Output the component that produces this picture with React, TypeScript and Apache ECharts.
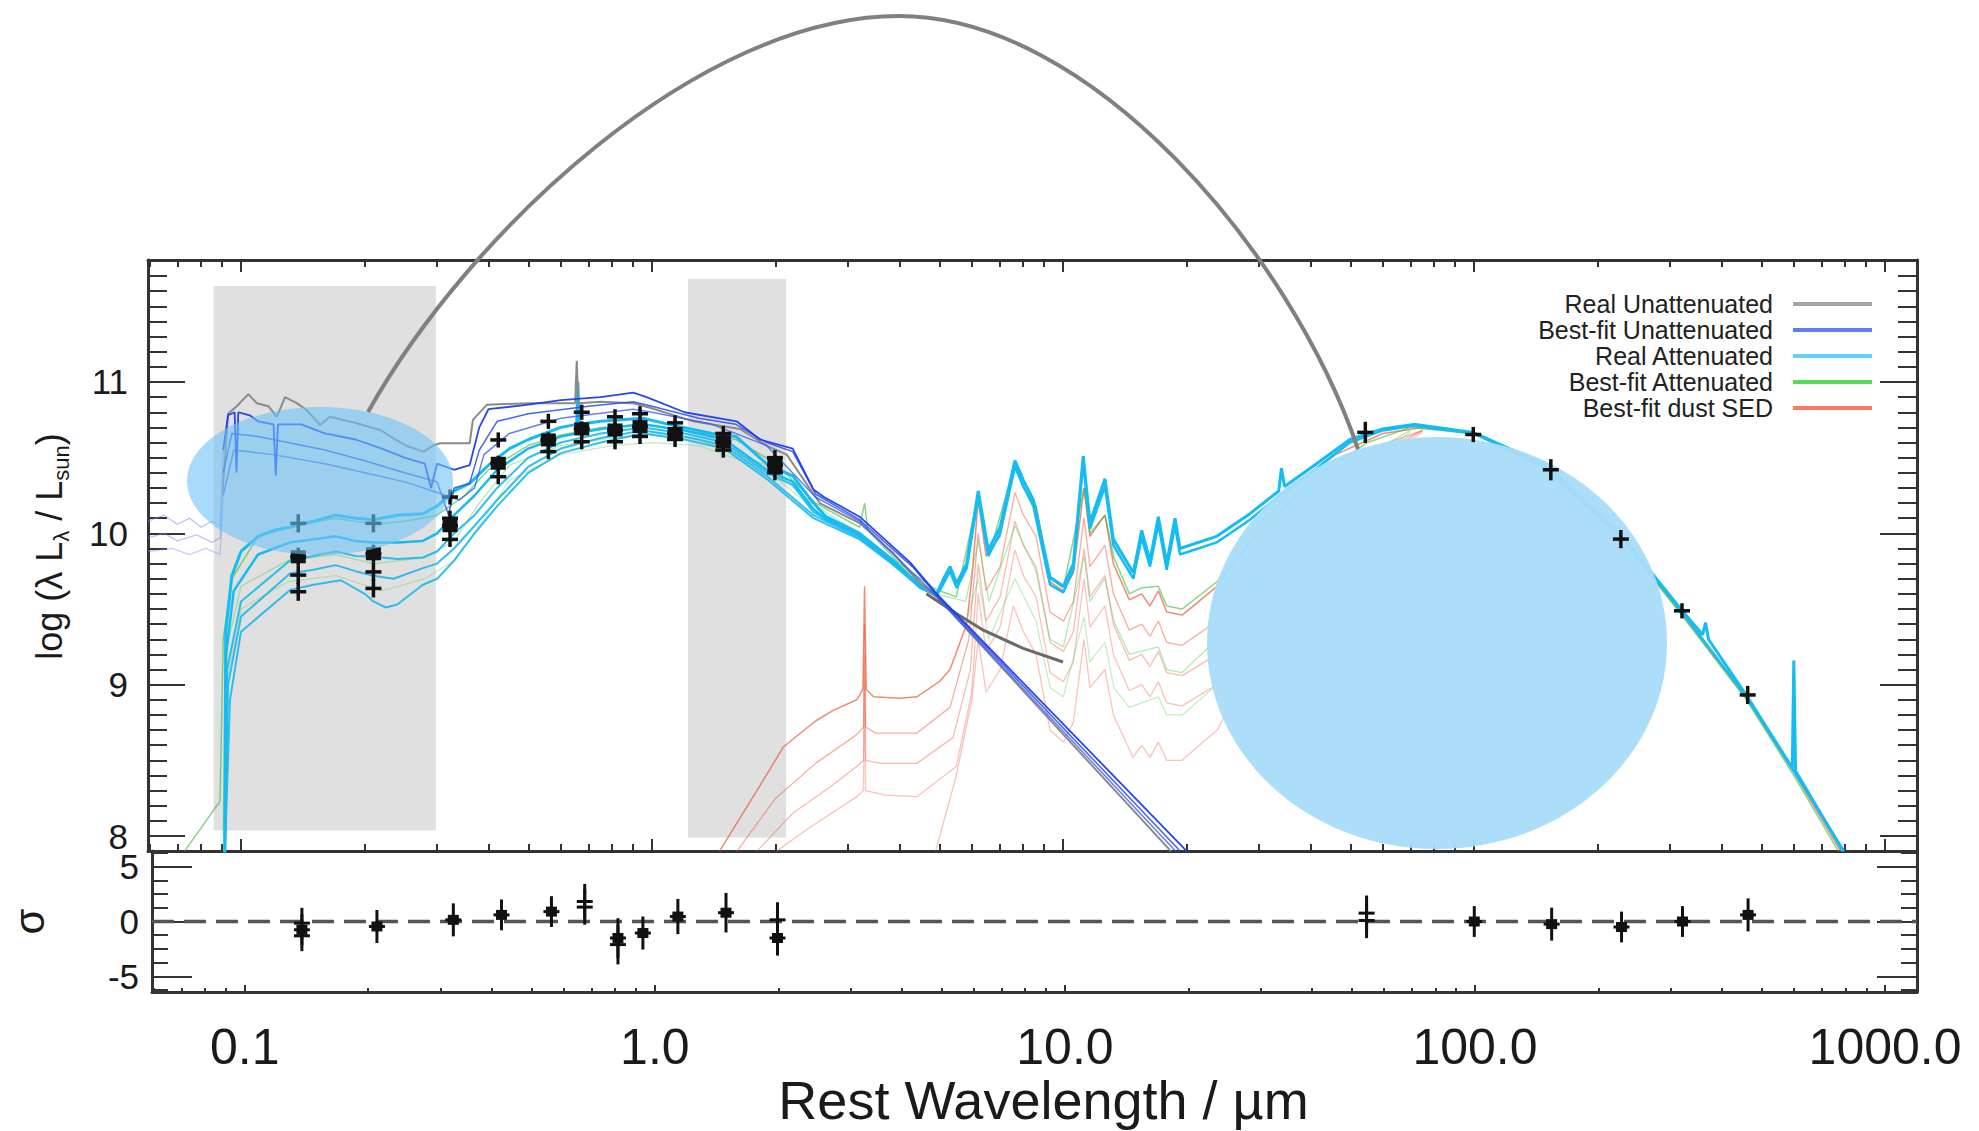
import React, { useEffect, useRef } from 'react';
import * as echarts from 'echarts';

// ---------- axis extents (x in log10 of wavelength / µm) ----------
const X_MIN = -1.2263;
const X_MAX = 3.0779;
const Y_MIN = 7.901;
const Y_MAX = 11.806;
const R_MIN = -6.41;
const R_MAX = 6.41;

const xMajorTicks = [-1, 0, 1, 2, 3];
const yMainLabels = [8, 9, 10, 11];
const yResidLabels = [-5, 0, 5];
const yResidMinor = [-6.25, -3.75, -2.5, -1.25, 1.25, 2.5, 3.75, 6.25];

// ---------- shaded wavelength windows ----------
const shadeWl = [[0.0858, 0.298], [1.224, 2.12]];
const shadeLum = [[8.036, 11.634], [7.99, 11.68]];

// ---------- Real Unattenuated (grey) ----------
const greyReal = [[0.0902,10.27],[0.093,10.79],[0.0976,10.84],[0.1042,10.92],[0.1092,10.86],[0.1166,10.84],[0.1222,10.77],[0.128,10.9],[0.1366,10.86],[0.1445,10.815],[0.1557,10.716],[0.1646,10.77],[0.1912,10.727],[0.218,10.683],[0.2348,10.628],[0.253,10.577],[0.2777,10.54],[0.2937,10.58],[0.305,10.595],[0.36,10.595],[0.3667,10.75],[0.3967,10.85],[0.5,10.86],[0.65,10.86],[0.656,11.14],[0.662,10.86],[0.75,10.87],[0.9,10.86],[0.989,10.83],[1.26,10.74],[1.637,10.69],[1.9,10.58],[2.127,10.52],[2.47,10.26],[2.564,10.198],[3.207,10.066],[3.865,9.868],[4.487,9.67],[4.93,9.58],[18.3,7.9]];
const greyBranch = [[4.65,9.6],[5.5,9.47],[6.4,9.36],[8.0,9.24],[10.0,9.15]];

// ---------- Best-fit Unattenuated (blue) ----------
const blueFarA = [[0.0594,10.08],[0.065,10.12],[0.07,10.06],[0.075,10.1],[0.08,10.04],[0.085,10.08],[0.089,10.05],[0.0905,10.55]];
const blueFarB = [[0.0594,9.97],[0.065,10.0],[0.07,9.95],[0.078,9.99],[0.085,9.94],[0.089,9.97],[0.0905,10.4]];
const blueFarC = [[0.0594,9.88],[0.068,9.9],[0.075,9.86],[0.082,9.9],[0.089,9.86],[0.0905,10.25]];
const blueA = [[0.0905,10.55],[0.093,10.78],[0.0965,10.8],[0.0975,10.4],[0.0985,10.8],[0.105,10.78],[0.11,10.74],[0.12,10.72],[0.1215,10.38],[0.123,10.72],[0.14,10.72],[0.16,10.66],[0.19,10.62],[0.22,10.56],[0.25,10.5],[0.28,10.46],[0.29,10.3],[0.3,10.46],[0.33,10.42],[0.36,10.45],[0.38,10.7],[0.4,10.82],[0.5,10.85],[0.6,10.88],[0.75,10.9],[0.9,10.93],[0.97,10.9],[1.2,10.8],[1.607,10.74],[1.83,10.62],[2.2,10.56],[2.47,10.29],[2.62,10.24],[3.2,10.11],[4.24,9.81],[4.93,9.6],[20.0,7.9]];
const blueB = [[0.0905,10.4],[0.095,10.66],[0.11,10.64],[0.13,10.6],[0.16,10.55],[0.2,10.48],[0.25,10.4],[0.3,10.34],[0.32,10.12],[0.33,10.3],[0.36,10.33],[0.38,10.55],[0.42,10.74],[0.5,10.79],[0.7,10.84],[0.9,10.87],[1.0,10.84],[1.3,10.76],[1.6,10.72],[1.9,10.6],[2.2,10.54],[2.5,10.26],[3.2,10.09],[4.3,9.78],[4.9,9.6],[19.3,7.9]];
const blueC = [[0.0905,10.25],[0.096,10.55],[0.12,10.52],[0.16,10.46],[0.2,10.4],[0.25,10.34],[0.3,10.27],[0.34,10.22],[0.37,10.3],[0.39,10.52],[0.45,10.66],[0.6,10.76],[0.9,10.82],[1.0,10.8],[1.4,10.72],[1.9,10.58],[2.5,10.24],[3.2,10.08],[4.9,9.59],[18.8,7.9]];

// ---------- Real Attenuated (cyan) ----------
const cyanA = [[0.0913,7.85],[0.0918,9.35],[0.095,9.72],[0.1,9.88],[0.11,9.98],[0.12,10.02],[0.1316,10.04],[0.15,10.08],[0.17,10.12],[0.19,10.1],[0.21,10.09],[0.24,10.12],[0.277,10.13],[0.3,10.18],[0.33,10.28],[0.36,10.33],[0.4,10.45],[0.45,10.56],[0.5,10.62],[0.6,10.7],[0.656,10.72],[0.66,11.0],[0.665,10.72],[0.75,10.74],[0.95,10.76],[1.1,10.72],[1.4,10.66],[1.6,10.64],[1.9,10.46],[2.2,10.38],[2.47,10.2],[2.65,10.11],[3.2,10.0],[3.87,9.82],[4.49,9.65],[4.93,9.6],[5.1,9.69],[5.31,9.78],[5.51,9.67],[5.83,9.8],[6.22,10.28],[6.58,9.89],[7.03,10.04],[7.64,10.48],[8.01,10.35],[8.47,10.22],[9.3,9.71],[10.02,9.65],[10.6,9.8],[11.2,10.51],[11.63,10.07],[12.65,10.36],[13.26,9.96],[14.83,9.74],[15.54,10.02],[16.28,9.82],[17.06,10.11],[17.88,9.8],[18.73,10.1],[19.26,9.9],[23.66,9.98],[28.5,10.13],[33.5,10.28],[34.0,10.43],[34.6,10.31],[41.4,10.46],[49.9,10.62],[60,10.69],[71.3,10.72],[99.5,10.667],[151,10.447],[229.5,9.98],[320.6,9.49],[360,9.33],[366,9.41],[372,9.3],[460,8.93],[595,8.45],[600,9.16],[606,8.43],[791,7.9]];
const cyanB = [[0.0913,7.85],[0.092,9.2],[0.096,9.62],[0.11,9.86],[0.1316,9.94],[0.15,9.96],[0.17,9.98],[0.19,9.95],[0.21,9.94],[0.24,9.94],[0.277,9.95],[0.3,10.0],[0.33,10.12],[0.37,10.25],[0.42,10.42],[0.5,10.56],[0.6,10.64],[0.75,10.69],[0.95,10.72],[1.2,10.68],[1.5,10.62],[1.9,10.42],[2.2,10.34],[2.47,10.16],[2.65,10.09],[3.2,9.99],[3.87,9.81],[4.49,9.64],[4.93,9.59],[5.1,9.66],[5.31,9.75],[5.51,9.64],[5.83,9.77],[6.22,10.24],[6.58,9.85],[7.03,10.0],[7.64,10.44],[8.01,10.31],[8.47,10.18],[9.3,9.66],[10.02,9.61],[10.6,9.76],[11.2,10.47],[11.63,10.03],[12.65,10.31],[13.26,9.92],[14.83,9.7],[15.54,9.97],[16.28,9.78],[17.06,10.06],[17.88,9.76],[18.73,10.05],[19.26,9.86],[23.66,9.94],[28.5,10.09],[34.4,10.27],[41.4,10.43],[49.9,10.6],[60,10.68],[71.3,10.71],[99.5,10.66],[151,10.44],[229.5,9.97],[320.6,9.48],[460,8.92],[600,8.43],[795,7.9]];
const cyanC = [[0.0913,7.85],[0.0925,9.1],[0.1,9.55],[0.1316,9.82],[0.15,9.85],[0.17,9.88],[0.19,9.85],[0.21,9.845],[0.24,9.83],[0.277,9.84],[0.3,9.88],[0.33,10.0],[0.37,10.12],[0.42,10.3],[0.5,10.5],[0.6,10.6],[0.75,10.66],[0.95,10.7],[1.2,10.66],[1.5,10.6],[1.9,10.4],[2.2,10.32],[2.47,10.14],[3.2,9.98],[4.49,9.64],[4.93,9.59]];
const cyanD = [[0.0913,7.85],[0.093,9.0],[0.1,9.45],[0.1316,9.735],[0.15,9.76],[0.17,9.79],[0.19,9.75],[0.21,9.72],[0.235,9.7],[0.277,9.77],[0.3,9.8],[0.33,9.9],[0.37,10.05],[0.42,10.22],[0.5,10.44],[0.6,10.56],[0.75,10.63],[0.95,10.68],[1.2,10.64],[1.5,10.58],[1.9,10.38],[2.47,10.12],[3.2,9.97],[4.93,9.58]];
const cyanE = [[0.0913,7.85],[0.094,8.9],[0.1,9.35],[0.1316,9.625],[0.15,9.66],[0.175,9.69],[0.2,9.6],[0.21,9.55],[0.225,9.51],[0.24,9.53],[0.277,9.66],[0.3,9.7],[0.33,9.82],[0.37,10.0],[0.42,10.18],[0.5,10.4],[0.6,10.53],[0.75,10.6],[0.95,10.66],[1.2,10.62],[1.5,10.56],[1.9,10.36],[2.47,10.1],[3.2,9.96],[4.93,9.58]];

// ---------- Best-fit Attenuated (green) ----------
const greenA = [[0.0729,7.9],[0.0889,8.23],[0.0905,9.3],[0.095,9.7],[0.11,9.98],[0.14,10.06],[0.17,10.1],[0.21,10.06],[0.25,10.08],[0.3,10.12],[0.35,10.25],[0.4,10.42],[0.5,10.58],[0.6,10.65],[0.75,10.7],[0.95,10.72],[1.2,10.68],[1.6,10.62],[2.0,10.46],[2.5,10.2],[3.2,10.04],[3.29,10.2],[3.35,10.02],[4.0,9.8],[4.9,9.63],[5.5,9.58],[6.22,10.25],[6.6,9.85],[7.64,10.46],[8.6,10.18],[9.3,9.7],[10.02,9.64],[11.25,10.3],[11.63,10.0],[12.65,10.12],[13.3,9.84],[14.5,9.6],[15.54,9.64],[17.06,9.65],[17.88,9.52],[19.5,9.5],[23.7,9.68],[30,10.0],[40,10.35],[55,10.6],[70,10.7],[100,10.66],[150,10.42],[230,9.95],[320,9.46],[460,8.9],[600,8.4],[770,7.9]];
const greenB = [[0.0905,8.0],[0.0915,9.2],[0.1,9.65],[0.13,9.82],[0.17,9.86],[0.21,9.8],[0.28,9.84],[0.33,9.95],[0.38,10.2],[0.45,10.45],[0.6,10.58],[0.8,10.63],[1.0,10.66],[1.3,10.62],[1.9,10.45],[2.5,10.18],[3.2,10.0],[4.9,9.6],[5.8,9.55],[6.22,9.95],[6.6,9.55],[7.64,10.05],[8.6,9.75],[9.3,9.3],[10.02,9.25],[11.25,9.85],[11.63,9.55],[12.65,9.7],[13.3,9.42],[14.5,9.2],[17.06,9.25],[17.88,9.1],[19.5,9.08],[23.7,9.3],[30,9.7],[40,10.15],[55,10.52],[70,10.68]];
const greenC = [[0.0905,7.9],[0.092,9.0],[0.1,9.5],[0.13,9.68],[0.17,9.72],[0.22,9.62],[0.28,9.7],[0.33,9.82],[0.38,10.05],[0.45,10.35],[0.6,10.52],[0.8,10.58],[1.0,10.6],[1.3,10.58],[1.9,10.42],[2.5,10.15],[3.2,9.98],[4.9,9.58],[5.8,9.4],[6.22,9.7],[6.6,9.3],[7.64,9.7],[8.6,9.42],[9.3,8.98],[10.02,8.92],[11.25,9.45],[11.63,9.15],[12.65,9.28],[13.3,8.98],[14.5,8.85],[17.06,8.92],[17.88,8.8],[19.5,8.8],[23.7,9.0],[30,9.45],[40,9.95],[55,10.45],[70,10.67]];

// ---------- Best-fit dust SED (red) ----------
const redA = [[1.46,7.9],[1.8,8.3],[2.09,8.59],[2.5,8.76],[2.76,8.83],[3.15,8.9],[3.26,8.97],[3.29,9.65],[3.32,8.97],[3.46,8.92],[4.0,8.91],[4.41,8.92],[5.0,9.02],[5.31,9.1],[5.83,9.4],[6.0,9.7],[6.22,10.22],[6.5,9.85],[7.03,9.98],[7.64,10.45],[8.01,10.3],[8.6,10.18],[9.3,9.68],[10.02,9.62],[10.6,9.74],[11.25,10.3],[11.63,9.98],[12.65,10.12],[13.26,9.8],[14.5,9.56],[15.54,9.6],[16.28,9.52],[17.06,9.62],[17.88,9.48],[19.5,9.46],[23.7,9.65],[28.5,9.95],[36,10.3],[46,10.52],[60,10.66],[75,10.7],[100,10.66],[150,10.43],[230,9.96],[320,9.47],[460,8.91],[600,8.42],[780,7.9]];
const redB = [[1.61,7.9],[2.0,8.25],[2.5,8.48],[3.15,8.67],[3.27,8.72],[3.29,9.4],[3.31,8.72],[3.5,8.68],[4.41,8.68],[5.31,8.85],[5.9,9.3],[6.22,10.0],[6.5,9.62],[7.03,9.78],[7.64,10.27],[8.01,10.12],[8.6,9.98],[9.3,9.48],[10.02,9.42],[10.6,9.55],[11.25,10.1],[11.63,9.78],[12.65,9.92],[13.26,9.6],[14.5,9.36],[15.54,9.4],[16.28,9.32],[17.06,9.42],[17.88,9.28],[19.5,9.26],[23.7,9.42],[30,9.8],[40,10.2],[55,10.55],[75,10.68]];
const redC = [[1.8,7.9],[2.2,8.15],[2.7,8.32],[3.15,8.46],[3.27,8.5],[3.29,9.2],[3.31,8.5],[3.6,8.48],[4.41,8.48],[5.4,8.65],[5.95,9.1],[6.22,9.8],[6.5,9.42],[7.03,9.58],[7.64,10.08],[8.01,9.92],[8.6,9.78],[9.3,9.28],[10.02,9.22],[10.6,9.35],[11.25,9.9],[11.63,9.58],[12.65,9.72],[13.26,9.4],[14.5,9.16],[15.54,9.2],[16.28,9.12],[17.06,9.22],[17.88,9.08],[19.5,9.06],[23.7,9.2],[30,9.6],[40,10.05],[55,10.5],[75,10.68]];
const redD = [[2.01,7.9],[2.4,8.05],[3.15,8.26],[3.27,8.3],[3.29,9.0],[3.31,8.3],[3.7,8.27],[4.41,8.26],[5.5,8.46],[6.0,8.95],[6.22,9.6],[6.5,9.22],[7.03,9.38],[7.64,9.89],[8.01,9.72],[8.6,9.58],[9.3,9.08],[10.02,9.02],[10.6,9.15],[11.25,9.7],[11.63,9.38],[12.65,9.52],[13.26,9.2],[14.5,8.96],[15.54,9.0],[16.28,8.92],[17.06,9.02],[17.88,8.88],[19.5,8.86],[23.7,9.0],[30,9.45],[40,9.95],[55,10.45],[75,10.68]];
const redE = [[4.9,7.9],[5.5,8.4],[6.0,8.9],[6.22,9.3],[6.5,8.95],[7.03,9.1],[7.57,9.52],[8.01,9.35],[8.6,9.2],[9.3,8.7],[10.02,8.62],[10.6,8.75],[11.25,9.3],[11.63,8.98],[12.65,9.1],[13.26,8.8],[14.8,8.52],[15.54,8.6],[16.28,8.52],[17.06,8.62],[17.88,8.5],[19.5,8.5],[23.7,8.7],[30,9.2],[40,9.8],[55,10.4],[75,10.67]];

// ---------- photometry ----------
const bandWl = [0.1378, 0.21, 0.3225, 0.4226, 0.5595, 0.6745, 0.8128, 0.935, 1.138, 1.491, 1.991, 54.4, 99.6, 153.8, 227.7, 320.7, 463.4];
const obsLum = [
  [10.066, 9.845, 9.724, 9.614],
  [10.066, 9.865, 9.745, 9.636],
  [10.24, 10.1, 10.05, 9.96],
  [10.617, 10.463, 10.374],
  [10.74, 10.617, 10.54],
  [10.8, 10.69, 10.605],
  [10.77, 10.683, 10.605],
  [10.79, 10.705, 10.64],
  [10.73, 10.66, 10.62],
  [10.66, 10.605, 10.55],
  [10.5, 10.45, 10.4],
  [10.667], [10.653], [10.42], [9.962], [9.488], [8.932],
];
const obsErr = [0.06, 0.06, 0.05, 0.05, 0.05, 0.05, 0.05, 0.05, 0.05, 0.05, 0.05, 0.07, 0.05, 0.07, 0.06, 0.05, 0.06];
const obsSquare = [1, 1, 2, 1, 1, 1, 1, 1, 1, 1, 1, -1, -1, -1, -1, -1, -1];

const residSig = [[-0.15, -0.75, -1.3], [-0.45], [0.15], [0.6], [0.9], [1.82, 1.31], [-1.5, -2.1], [-1.05], [0.45], [0.8], [0.15, -1.5], [0.76, 0.09], [0.0], [-0.24], [-0.5], [0.0], [0.6]];
const residErr = [1.4, 1.5, 1.5, 1.4, 1.4, 1.6, 1.8, 1.5, 1.6, 1.8, 1.6, 1.6, 1.4, 1.5, 1.4, 1.4, 1.5];
const residSquare = [1, 0, 0, 0, 0, -1, 0, 0, 0, 0, 1, -1, 0, 0, 0, 0, 0];

// ---------- colours / legend ----------
const legendNames = ['Real Unattenuated', 'Best-fit Unattenuated', 'Real Attenuated', 'Best-fit Attenuated', 'Best-fit dust SED'];
const legendColors = ['#a6a6a6', '#607ef2', '#5fd0fa', '#55dd55', '#fb7a62'];

const FONT = 'Liberation Sans, Arial, sans-serif';
const AX = '#333333';

const toLog = (arr: number[][]) => arr.map(([w, v]) => [Math.log10(w), v]);

function xMinorTicks(): number[] {
  const out: number[] = [];
  for (let n = -2; n <= 3; n++) {
    for (let k = 2; k <= 9; k++) {
      const v = Math.log10(k) + n;
      if (v > X_MIN + 0.002 && v < X_MAX - 0.002) out.push(v);
    }
  }
  return out;
}
function yMainMinor(): number[] {
  const out: number[] = [];
  for (let i = 80; i <= 118; i++) {
    if (i % 10 !== 0) out.push(i / 10);
  }
  return out;
}

function xAxisDef(grid: number, pos: string, ticks: number[], len: number, line: boolean, labels?: any, extra?: any) {
  return {
    type: 'value', gridIndex: grid, position: pos, min: X_MIN, max: X_MAX,
    axisLine: { show: line, onZero: false, lineStyle: { color: AX, width: 3 } },
    axisTick: { show: true, inside: true, length: len, customValues: ticks, lineStyle: { color: AX, width: 2 } },
    axisLabel: labels || { show: false },
    splitLine: { show: false },
    ...(extra || {}),
  };
}
function yAxisDef(grid: number, pos: string, min: number, max: number, ticks: number[], len: number, line: boolean, labels?: any, extra?: any) {
  return {
    type: 'value', gridIndex: grid, position: pos, min, max,
    axisLine: { show: line, onZero: false, lineStyle: { color: AX, width: 3 } },
    axisTick: { show: true, inside: true, length: len, customValues: ticks, lineStyle: { color: AX, width: 2 } },
    axisLabel: labels || { show: false },
    splitLine: { show: false },
    ...(extra || {}),
  };
}

function lineSeries(name: string, data: number[][], color: string, width: number, opacity: number, z = 2) {
  return {
    type: 'line', name, xAxisIndex: 0, yAxisIndex: 0, data: toLog(data),
    showSymbol: false, symbol: 'none', silent: true, clip: true, z,
    lineStyle: { color, width, opacity }, itemStyle: { color },
  };
}

function crossRender(hw: number, lw: number, sqW: number, sqH: number) {
  return (params: any, api: any) => {
    const x = api.value(0), y = api.value(1), e = api.value(2), sq = api.value(3);
    const c = api.coord([x, y]);
    const t = api.coord([x, y + e]);
    const b = api.coord([x, y - e]);
    const children: any[] = [
      { type: 'line', shape: { x1: c[0], y1: t[1], x2: c[0], y2: b[1] }, style: { stroke: '#111', lineWidth: lw } },
      { type: 'line', shape: { x1: c[0] - hw, y1: c[1], x2: c[0] + hw, y2: c[1] }, style: { stroke: '#111', lineWidth: lw } },
    ];
    if (sq) children.push({ type: 'rect', shape: { x: c[0] - sqW / 2, y: c[1] - sqH / 2, width: sqW, height: sqH }, style: { fill: '#111' } });
    return { type: 'group', children };
  };
}

export default function App() {
  const ref = useRef<HTMLDivElement>(null);
  useEffect(() => {
    if (!ref.current) return;
    const chart = echarts.init(ref.current, undefined, { renderer: 'svg' });
    const xMinor = xMinorTicks();
    const yMinor = yMainMinor();

    const obsData: number[][] = [];
    bandWl.forEach((w, i) => obsLum[i].forEach((v, j) => obsData.push([Math.log10(w), v, obsErr[i], obsSquare[i] === j ? 1 : 0])));
    const resData: number[][] = [];
    bandWl.forEach((w, i) => residSig[i].forEach((v, j) => resData.push([Math.log10(w), v, residErr[i], residSquare[i] === j ? 1 : 0])));

    const labelStyle = { color: '#1a1a1a', fontFamily: FONT };

    const option: any = {
      animation: false,
      backgroundColor: '#ffffff',
      textStyle: { fontFamily: FONT },
      grid: [
        { left: 148, top: 260, width: 1769, height: 591, containLabel: false },
        { left: 148, top: 851, width: 1769, height: 141, containLabel: false },
      ],
      xAxis: [
        xAxisDef(0, 'bottom', xMajorTicks, 12, true),
        xAxisDef(0, 'bottom', xMinor, 7, false),
        xAxisDef(0, 'top', xMajorTicks, 12, true),
        xAxisDef(0, 'top', xMinor, 7, false),
        xAxisDef(1, 'bottom', xMajorTicks, 7, true, {
          show: true, customValues: xMajorTicks, margin: 30, fontSize: 50, ...labelStyle,
          formatter: (v: number) => Math.pow(10, v).toFixed(1),
        }, {
          name: 'Rest Wavelength / µm', nameLocation: 'middle', nameGap: 80,
          nameTextStyle: { fontSize: 54, ...labelStyle, padding: [0, 0, 0, 18] },
        }),
        xAxisDef(1, 'bottom', xMinor, 4, false),
      ],
      yAxis: [
        yAxisDef(0, 'left', Y_MIN, Y_MAX, yMainLabels, 37, true, {
          show: true, customValues: yMainLabels, margin: 20, fontSize: 35, ...labelStyle,
        }, {
          name: 'log (λ L{s|λ} / L{s|sun})', nameLocation: 'middle', nameGap: 76, nameRotate: 90,
          nameTextStyle: {
            fontSize: 36, lineHeight: 46, ...labelStyle, padding: [0, 0, 0, 18],
            rich: { s: { fontSize: 22, lineHeight: 24, verticalAlign: 'bottom', color: '#1a1a1a', fontFamily: FONT } },
          },
        }),
        yAxisDef(0, 'left', Y_MIN, Y_MAX, yMinor, 19, false),
        yAxisDef(0, 'right', Y_MIN, Y_MAX, yMainLabels, 37, true),
        yAxisDef(0, 'right', Y_MIN, Y_MAX, yMinor, 19, false),
        yAxisDef(1, 'left', R_MIN, R_MAX, yResidLabels, 40, true, {
          show: true, customValues: yResidLabels, margin: 13, fontSize: 35, ...labelStyle,
        }, {
          name: 'σ', nameLocation: 'middle', nameGap: 102, nameRotate: 90,
          nameTextStyle: { fontSize: 42, ...labelStyle },
        }),
        yAxisDef(1, 'left', R_MIN, R_MAX, yResidMinor, 16, false),
        yAxisDef(1, 'right', R_MIN, R_MAX, yResidLabels, 40, true),
        yAxisDef(1, 'right', R_MIN, R_MAX, yResidMinor, 16, false),
      ],
      legend: {
        orient: 'vertical', right: 102, top: 286, align: 'right', icon: 'rect',
        itemWidth: 79, itemHeight: 4, itemGap: 0, selectedMode: false,
        textStyle: { fontSize: 25, color: '#222', fontFamily: FONT, lineHeight: 26, padding: [0, 15, 0, 0] },
        data: legendNames.map((n, i) => ({ name: n, itemStyle: { color: legendColors[i], opacity: 1 } })),
      },
      series: [
        {
          type: 'line', name: 'shade', xAxisIndex: 0, yAxisIndex: 0, data: [], silent: true,
          markArea: {
            silent: true, itemStyle: { color: '#e0e0e0' },
            data: shadeWl.map((w, i) => [
              { coord: [Math.log10(w[0]), shadeLum[i][0]] },
              { coord: [Math.log10(w[1]), shadeLum[i][1]] },
            ]),
          },
        },
        lineSeries('Best-fit dust SED', redE, '#f27a64', 1.3, 0.45),
        lineSeries('Best-fit dust SED', redD, '#f27a64', 1.3, 0.45),
        lineSeries('Best-fit dust SED', redC, '#f27a64', 1.3, 0.5),
        lineSeries('Best-fit dust SED', redB, '#f06a50', 1.3, 0.55),
        lineSeries('Best-fit dust SED', redA, '#ea5a3a', 1.5, 0.7),
        lineSeries('Best-fit Attenuated', greenC, '#6ad86a', 1.3, 0.4),
        lineSeries('Best-fit Attenuated', greenB, '#5ccf5c', 1.3, 0.45),
        lineSeries('Best-fit Attenuated', greenA, '#3cb83c', 1.5, 0.6),
        lineSeries('Real Attenuated', cyanE, '#1cb8ec', 2, 0.9),
        lineSeries('Real Attenuated', cyanD, '#1cb8ec', 2, 0.9),
        lineSeries('Real Attenuated', cyanC, '#1cb8ec', 2, 0.9),
        lineSeries('Real Attenuated', cyanB, '#14bcf2', 2.5, 1),
        lineSeries('Real Attenuated', cyanA, '#14bcf2', 3, 1),
        lineSeries('Real Unattenuated', greyReal, '#8a8a8a', 2, 1),
        lineSeries('Real Unattenuated', greyBranch, '#6a6a6a', 3, 1),
        lineSeries('Best-fit Unattenuated', blueFarC, '#7d90f2', 1.3, 0.45),
        lineSeries('Best-fit Unattenuated', blueFarB, '#7d90f2', 1.3, 0.5),
        lineSeries('Best-fit Unattenuated', blueFarA, '#7d90f2', 1.3, 0.55),
        lineSeries('Best-fit Unattenuated', blueC, '#2f55f2', 1.5, 0.75),
        lineSeries('Best-fit Unattenuated', blueB, '#2448f4', 1.5, 0.85),
        lineSeries('Best-fit Unattenuated', blueA, '#1a3cf0', 1.8, 0.95),
        {
          type: 'custom', name: 'photometry', xAxisIndex: 0, yAxisIndex: 0, z: 20, silent: true,
          encode: { x: 0, y: 1 }, data: obsData, renderItem: crossRender(8, 3.5, 15, 13),
        },
        {
          type: 'line', name: 'zero', xAxisIndex: 4, yAxisIndex: 4, silent: true, showSymbol: false, symbol: 'none',
          data: [[X_MIN, 0], [X_MAX, 0]],
          lineStyle: { color: '#555', width: 3.5, type: [22, 10] },
        },
        {
          type: 'custom', name: 'residuals', xAxisIndex: 4, yAxisIndex: 4, z: 20, silent: true,
          encode: { x: 0, y: 1 }, data: resData, renderItem: crossRender(8, 3, 11, 10),
        },
      ],
      graphic: [
        { type: 'ellipse', z: 10, silent: true, shape: { cx: 1437, cy: 643, rx: 230, ry: 206 }, style: { fill: '#a8dcfa', opacity: 0.95 } },
        { type: 'ellipse', z: 25, silent: true, shape: { cx: 320, cy: 481, rx: 133, ry: 74 }, style: { fill: 'rgba(110,195,245,0.6)' } },
        { type: 'bezierCurve', z: 30, silent: true, shape: { x1: 368, y1: 412, cpx1: 470, cpy1: 230, cpx2: 700, cpy2: 16, x2: 899, y2: 16 }, style: { stroke: '#808080', lineWidth: 4, fill: 'none' } },
        { type: 'bezierCurve', z: 30, silent: true, shape: { x1: 899, y1: 16, cpx1: 1090, cpy1: 16, cpx2: 1290, cpy2: 250, x2: 1358, y2: 449 }, style: { stroke: '#808080', lineWidth: 4, fill: 'none' } },
      ],
    };
    chart.setOption(option);
    return () => chart.dispose();
  }, []);
  return <div ref={ref} style={{ position: 'fixed', left: 0, top: 0, width: 1979, height: 1131, background: '#fff' }} />;
}
